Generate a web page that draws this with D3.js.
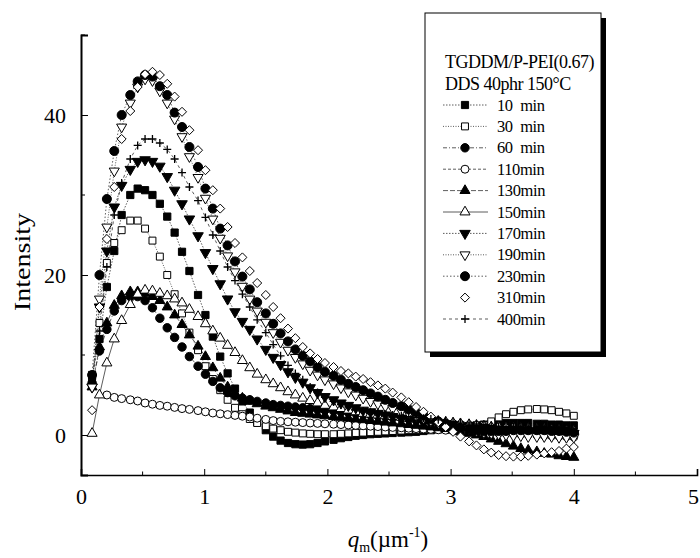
<!DOCTYPE html>
<html>
<head>
<meta charset="utf-8">
<script src="https://cdn.jsdelivr.net/npm/d3@7"></script>
<style>
  body { margin: 0; background: #fff; }
  svg { display: block; font-family: "Liberation Serif", "Times New Roman", serif; }
</style>
</head>
<body>
<div id="chart"></div>
<script>
const width = 700;
const height = 558;

// sampling grid of q (um^-1)
const qValues = [0.09, 0.15, 0.21, 0.27, 0.33, 0.40, 0.46, 0.52, 0.58, 0.64,
  0.70, 0.76, 0.82, 0.88, 0.95, 1.01, 1.07, 1.13, 1.19, 1.25,
  1.31, 1.37, 1.43, 1.50, 1.56, 1.62, 1.68, 1.74, 1.80, 1.86,
  1.92, 1.98, 2.05, 2.11, 2.17, 2.23, 2.29, 2.35, 2.41, 2.47,
  2.53, 2.60, 2.66, 2.72, 2.78, 2.84, 2.90, 2.96, 3.02, 3.08,
  3.15, 3.21, 3.27, 3.33, 3.39, 3.45, 3.51, 3.57, 3.63, 3.70,
  3.76, 3.82, 3.88, 3.94, 4.00];

const labels = ['10  min', '30  min', '60  min', '110min', '130min', '150min',
  '170min', '190min', '230min', '310min', '400min'];

const i10 = [7.5, 12, 18.5, 23.0, 27.5, 30.0, 30.8, 30.6, 30.0, 28.9,
  27.3, 25.3, 22.9, 20.5, 17.5, 15.0, 12.3, 9.8, 7.7, 5.8,
  4.2, 2.8, 1.6, 0.6, -0.2, -0.7, -1.0, -1.15, -1.2, -1.15,
  -1.0, -0.8, -0.6, -0.4, -0.25, -0.1, 0.0, 0.1, 0.15, 0.2,
  0.25, 0.3, 0.35, 0.4, 0.5, 0.6, 0.7, 0.8, 0.9, 1.0,
  1.1, 1.2, 1.3, 1.4, 1.5, 1.5, 1.5, 1.5, 1.5, 1.4,
  1.4, 1.3, 1.3, 1.2, 1.2];
const i30 = [7, 14, 21.5, 24, 25.6, 26.8, 26.8, 25.8, 24.3, 22.3,
  20.0, 17.6, 15.2, 12.8, 10.6, 8.6, 7.0, 5.6, 4.4, 3.4,
  2.6, 2.0, 1.5, 1.1, 0.8, 0.6, 0.4, 0.3, 0.2, 0.15,
  0.1, 0.1, 0.1, 0.15, 0.2, 0.25, 0.3, 0.35, 0.4, 0.45,
  0.5, 0.55, 0.6, 0.65, 0.7, 0.75, 0.8, 0.85, 0.9, 0.95,
  0.95, 1.05, 1.2, 1.7, 2.2, 2.6, 2.9, 3.1, 3.2, 3.25,
  3.2, 3.1, 2.9, 2.7, 2.4];
const i60 = [6.5, 10.5, 13.2, 15.5, 16.8, 17.3, 17.3, 16.8, 15.9, 14.6,
  13.4, 12.2, 11.0, 9.8, 8.6, 7.6, 6.7, 5.9, 5.3, 4.9,
  4.6, 4.4, 4.2, 4.0, 3.8, 3.7, 3.6, 3.5, 3.4, 3.3,
  3.2, 3.1, 3.0, 2.9, 2.8, 2.7, 2.6, 2.5, 2.4, 2.3,
  2.2, 2.1, 2.0, 1.9, 1.8, 1.7, 1.6, 1.5, 1.4, 1.3,
  1.2, 1.1, 1.0, 0.9, 0.8, 0.7, 0.6, 0.6, 0.5, 0.5,
  0.4, 0.4, 0.3, 0.3, 0.2];
const i110 = [null, null, 5.0, 4.7, 4.55, 4.4, 4.25, 4.0, 3.85, 3.7,
  3.6, 3.45, 3.3, 3.2, 3.05, 2.9, 2.75, 2.65, 2.55, 2.45,
  2.35, 2.25, 2.1, 1.95, 1.8, 1.7, 1.65, 1.6, 1.55, 1.5,
  1.45, 1.4, 1.35, 1.3, 1.25, 1.2, 1.15, 1.1, 1.05, 1.0,
  0.95, 0.9, 0.85, 0.8, 0.75, 0.7, 0.65, 0.6, 0.55, 0.5,
  0.45, 0.4, 0.35, 0.3, 0.25, 0.2, 0.15, 0.1, 0.05, 0.0,
  -0.05, -0.1, -0.15, -0.2, -0.25];
const i130 = [6.0, 11.0, 14.0, 16.2, 17.4, 17.9, 17.9, 17.7, 17.3, 16.8,
  16.0, 15.0, 13.8, 12.5, 11.1, 9.8, 8.4, 7.1, 6.0, 5.2,
  4.6, 4.2, 3.9, 3.6, 3.4, 3.2, 3.0, 2.8, 2.7, 2.6,
  2.5, 2.4, 2.3, 2.2, 2.1, 2.0, 1.9, 1.8, 1.7, 1.6,
  1.5, 1.4, 1.3, 1.2, 1.1, 1.0, 0.9, 0.8, 0.6, 0.4,
  0.2, 0.0, -0.2, -0.5, -0.8, -1.1, -1.4, -1.7, -1.9, -2.1,
  -2.3, -2.4, -2.6, -2.7, -2.8];
const i150 = [0.2, 5.0, 9.0, 12.0, 14.3, 16.3, 17.6, 18.1, 18.0, 17.7,
  17.4, 17.0, 16.5, 15.7, 14.8, 13.9, 13.0, 12.1, 11.2, 10.3,
  9.3, 8.4, 7.6, 6.9, 6.4, 5.9, 5.4, 5.0, 4.6, 4.3,
  4.0, 3.7, 3.5, 3.3, 3.1, 2.9, 2.7, 2.6, 2.5, 2.4,
  2.3, 2.2, 2.1, 2.0, 1.9, 1.8, 1.7, 1.6, 1.5, 1.4,
  1.3, 1.2, 1.1, 1.0, 1.0, 0.9, 0.9, 0.8, 0.8, 0.7,
  0.7, 0.6, 0.6, 0.5, 0.5];
const i170 = [6, 16, 23, 28.5, 31.2, 33.2, 34.2, 34.4, 34.2, 33.6,
  32.3, 30.6, 28.9, 27.0, 24.9, 22.8, 20.8, 18.9, 17.0, 15.4,
  14.2, 13.2, 12.0, 10.7, 9.7, 8.8, 7.9, 7.2, 6.6, 5.9,
  5.3, 4.8, 4.4, 4.0, 3.7, 3.4, 3.1, 2.9, 2.7, 2.5,
  2.3, 2.1, 1.9, 1.7, 1.5, 1.4, 1.3, 1.2, 1.1, 1.0,
  0.9, 0.9, 0.8, 0.8, 0.7, 0.7, 0.6, 0.6, 0.5, 0.5,
  0.4, 0.4, 0.3, 0.3, 0.2];
const i190 = [6, 17, 26, 33, 38.5, 41.5, 43.5, 44.5, 44.3, 43.0,
  41.5, 39.5, 37.3, 34.8, 32.2, 29.6, 27.0, 24.6, 22.4, 20.4,
  18.6, 17.0, 15.5, 14.1, 12.8, 11.6, 10.6, 9.7, 8.9, 8.1,
  7.5, 6.9, 6.4, 5.9, 5.4, 5.0, 4.6, 4.2, 3.9, 3.6,
  3.3, 3.0, 2.7, 2.4, 2.1, 1.8, 1.5, 1.3, 1.1, 0.9,
  0.7, 0.5, 0.3, 0.2, 0.1, 0.0, -0.1, -0.1, -0.2, -0.2,
  -0.2, -0.2, -0.3, -0.3, -0.3];
const i230 = [7.5, 20, 29.5, 35.5, 40, 42.5, 44.2, 45.0, 44.8, 43.6,
  42.5, 40.3, 38.5, 36.0, 33.5, 30.8, 28.3, 25.8, 23.7, 21.7,
  19.8, 18.2, 16.6, 15.2, 13.9, 12.7, 11.7, 10.7, 9.9, 9.2,
  8.5, 7.9, 7.4, 6.9, 6.4, 6.0, 5.6, 5.2, 4.8, 4.4,
  4.0, 3.6, 3.2, 2.8, 2.4, 2.0, 1.7, 1.4, 1.1, 0.9,
  0.7, 0.6, 0.5, 0.5, 0.5, 0.5, 0.6, 0.6, 0.6, 0.6,
  0.6, 0.5, 0.5, 0.4, 0.3];
const i310 = [3.1, 16, 24.5, 31, 37, 40.5, 43.5, 45.1, 45.4, 45.0,
  43.9, 42.3, 40.4, 38.1, 35.6, 33.1, 30.6, 28.3, 26.0, 24.0,
  22.2, 20.5, 19.0, 17.5, 16.0, 14.6, 13.3, 12.1, 11.0, 10.2,
  9.5, 9.0, 8.5, 8.0, 7.7, 7.3, 7.0, 6.6, 6.2, 5.8,
  5.3, 4.7, 4.1, 3.5, 2.9, 2.3, 1.6, 1.0, 0.4, -0.2,
  -0.8, -1.3, -1.8, -2.2, -2.5, -2.65, -2.7, -2.7, -2.6, -2.45,
  -2.3, -2.15, -2.0, -1.7, -1.5];
const i400 = [7, 13, 21, 27.5, 31.5, 34.5, 36.2, 37.0, 37.0, 36.5,
  35.7, 34.5, 32.8, 31.0, 29.3, 27.2, 25.0, 23.0, 21.0, 19.3,
  17.6, 16.0, 14.4, 12.8, 11.3, 9.9, 8.7, 7.7, 6.9, 6.0,
  5.3, 4.7, 4.2, 3.8, 3.5, 3.2, 3.0, 2.8, 2.7, 2.6,
  2.5, 2.4, 2.3, 2.2, 2.1, 2.0, 1.9, 1.8, 1.7, 1.6,
  1.5, 1.4, 1.3, 1.2, 1.1, 1.0, 1.0, 0.9, 0.9, 0.8,
  0.8, 0.7, 0.7, 0.6, 0.6];

const xTicks = [0, 1, 2, 3, 4, 5];
const yTicks = [0, 20, 40];

const intensities = [i10, i30, i60, i110, i130, i150, i170, i190, i230, i310, i400];

// marker + line style per series (legend order)
const styles = [
  { sym: d3.symbolSquare, size: 52, fill: '#000', dash: '1.5,1.5' },
  { sym: d3.symbolSquare, size: 48, fill: '#fff', dash: '1,1.5' },
  { sym: d3.symbolCircle, size: 56, fill: '#000', dash: '4,2,1,2' },
  { sym: d3.symbolCircle, size: 50, fill: '#fff', dash: '3,2' },
  { sym: d3.symbolTriangle, size: 44, fill: '#000', dash: '5,2' },
  { sym: d3.symbolTriangle, size: 44, fill: '#fff', dash: null },
  { sym: d3.symbolTriangle, size: 48, fill: '#000', dash: '1.5,1.5', rot: 180 },
  { sym: d3.symbolTriangle, size: 44, fill: '#fff', dash: '1,1.5', rot: 180 },
  { sym: d3.symbolCircle, size: 64, fill: '#000', dash: '1.5,2' },
  { sym: d3.symbolDiamond2, size: 52, fill: '#fff', dash: null, noLine: true },
  { sym: d3.symbolCross, size: 40, fill: '#000', dash: '3,3', plus: true }
];

const series = labels.map((name, k) => ({
  name,
  style: styles[k],
  points: qValues.map((q, i) => ({ q, v: intensities[k][i] }))
    .filter(p => p.v !== null && p.v !== undefined)
}));

const margin = { top: 35, right: 3, bottom: 83, left: 81 };

const x = d3.scaleLinear()
  .domain([0, 5])
  .range([margin.left, width - margin.right]);

const y = d3.scaleLinear()
  .domain([-5, 50])
  .range([height - margin.bottom, margin.top]);

const svg = d3.select('#chart')
  .append('svg')
  .attr('width', width)
  .attr('height', height)
  .attr('viewBox', [0, 0, width, height]);

// lines
const line = d3.line().x(d => x(d.q)).y(d => y(d.v));

svg.append('g')
  .selectAll('path')
  .data(series.filter(s => !s.style.noLine))
  .join('path')
    .attr('d', s => line(s.points))
    .attr('fill', 'none')
    .attr('stroke', '#333')
    .attr('stroke-width', 0.8)
    .attr('stroke-dasharray', s => s.style.dash);

function markerPath(st) {
  if (st.plus) {
    return 'M-4,0H4M0,-4V4';
  }
  return d3.symbol().type(st.sym).size(st.size)();
}

// markers
series.forEach(s => {
  const st = s.style;
  svg.append('g')
    .selectAll('path')
    .data(s.points)
    .join('path')
      .attr('transform', d => `translate(${x(d.q)},${y(d.v)})` + (st.rot ? ` rotate(${st.rot})` : ''))
      .attr('d', markerPath(st))
      .attr('fill', st.plus ? 'none' : st.fill)
      .attr('stroke', '#000')
      .attr('stroke-width', st.plus ? 1.3 : 1);
});

// axes
function xAxis(g) {
  g.attr('transform', `translate(0,${y(-5)})`)
    .call(d3.axisBottom(x).tickValues(xTicks).tickSize(-6).tickPadding(13).tickFormat(d3.format('d')))
    .call(g => g.select('.domain').attr('stroke-width', 1.6))
    .attr('font-size', '22px')
    .attr('font-family', '"Liberation Serif", serif');
  g.selectAll('.tick text').filter(d => d === 5).attr('dx', -4);
  g.selectAll('.minor')
    .data(d3.range(0.5, 5, 1))
    .join('line')
      .attr('class', 'minor')
      .attr('x1', d => x(d)).attr('x2', d => x(d))
      .attr('y1', 0).attr('y2', -3.5)
      .attr('stroke', '#000');
}

function yAxis(g) {
  g.attr('transform', `translate(${x(0)},0)`)
    .call(d3.axisLeft(y).tickValues(yTicks).tickSize(-7).tickPadding(15).tickFormat(d3.format('d')))
    .call(g => g.select('.domain').attr('stroke-width', 2))
    .attr('font-size', '22px')
    .attr('font-family', '"Liberation Serif", serif');
  g.selectAll('.minor')
    .data([10, 30, 50])
    .join('line')
      .attr('class', 'minor')
      .attr('x1', 0).attr('x2', 4)
      .attr('y1', d => y(d)).attr('y2', d => y(d))
      .attr('stroke', '#000');
}

svg.append('g').call(xAxis);
svg.append('g').call(yAxis);

// axis titles
svg.append('text')
  .attr('transform', 'translate(30,262) rotate(-90)')
  .attr('text-anchor', 'middle')
  .attr('font-size', '24px')
  .attr('textLength', 98)
  .attr('lengthAdjust', 'spacingAndGlyphs')
  .text('Intensity');

const xt = svg.append('text')
  .attr('x', 388)
  .attr('y', 547)
  .attr('text-anchor', 'middle')
  .attr('font-size', '23px');
xt.append('tspan').attr('font-style', 'italic').text('q');
xt.append('tspan').attr('font-size', '14px').attr('dy', 5).text('m');
xt.append('tspan').attr('dy', -5).text('(\u00b5m');
xt.append('tspan').attr('font-size', '14px').attr('dy', -10).text('-1');
xt.append('tspan').attr('dy', 10).text(')');

// legend
const lg = svg.append('g');
lg.append('rect')
  .attr('x', 430).attr('y', 18)
  .attr('width', 176).attr('height', 339)
  .attr('fill', '#000');
lg.append('rect')
  .attr('x', 425).attr('y', 13)
  .attr('width', 176).attr('height', 339)
  .attr('fill', '#fff')
  .attr('stroke', '#000')
  .attr('stroke-width', 1);

lg.append('text')
  .attr('x', 445).attr('y', 68)
  .attr('font-size', '18px')
  .attr('letter-spacing', '-0.5px')
  .text('TGDDM/P-PEI(0.67)');
lg.append('text')
  .attr('x', 445).attr('y', 90)
  .attr('font-size', '18px')
  .attr('letter-spacing', '-0.5px')
  .text('DDS 40phr 150\u00b0C');

const item = lg.selectAll('.item')
  .data(series)
  .join('g')
    .attr('class', 'item')
    .attr('transform', (d, i) => `translate(0,${105 + i * 21.4})`);

item.filter(d => !d.style.noLine)
  .append('line')
    .attr('x1', 443).attr('x2', 488)
    .attr('stroke', '#333')
    .attr('stroke-width', 0.8)
    .attr('stroke-dasharray', d => d.style.dash);

item.append('path')
  .attr('transform', d => 'translate(465,0)' + (d.style.rot ? ` rotate(${d.style.rot})` : ''))
  .attr('d', d => markerPath(d.style))
  .attr('fill', d => d.style.plus ? 'none' : d.style.fill)
  .attr('stroke', '#000')
  .attr('stroke-width', d => d.style.plus ? 1.3 : 1);

item.append('text')
  .attr('x', 497).attr('y', 5.5)
  .attr('font-size', '16.5px')
  .attr('letter-spacing', '-0.4px')
  .style('white-space', 'pre')
  .text(d => d.name);
</script>
</body>
</html>
